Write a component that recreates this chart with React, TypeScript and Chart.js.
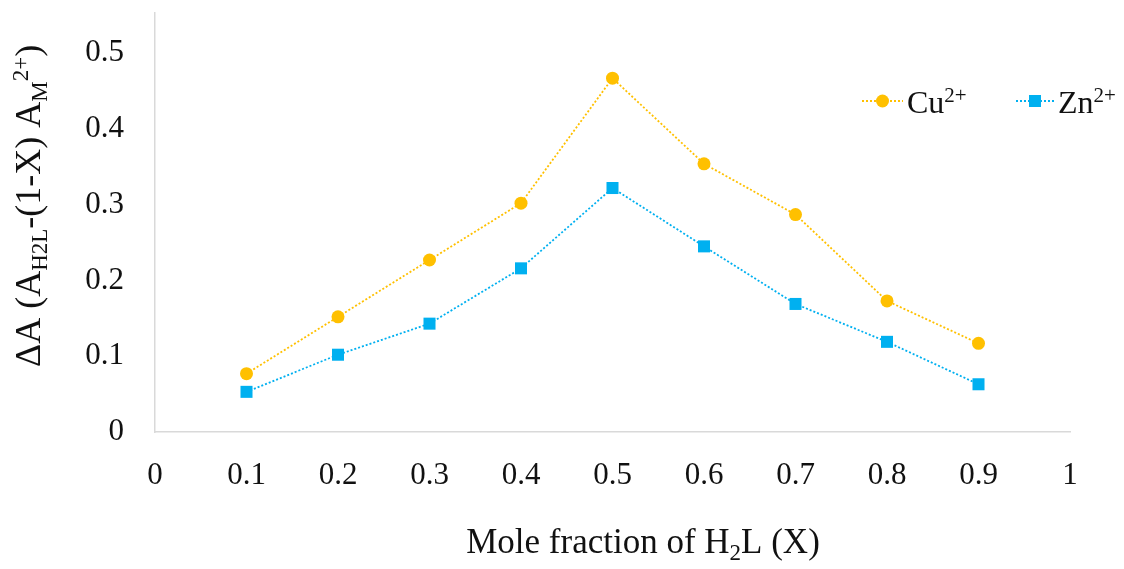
import React, { useEffect, useRef } from "react";
import { Chart, registerables } from "chart.js";

Chart.register(...registerables);

const xValues = [0.1, 0.2, 0.3, 0.4, 0.5, 0.6, 0.7, 0.8, 0.9];
const cuValues = [0.077, 0.152, 0.227, 0.302, 0.467, 0.354, 0.287, 0.173, 0.117];
const znValues = [0.053, 0.102, 0.143, 0.216, 0.322, 0.245, 0.169, 0.119, 0.063];
const xTicks = [0, 0.1, 0.2, 0.3, 0.4, 0.5, 0.6, 0.7, 0.8, 0.9, 1];
const yTicks = [0, 0.1, 0.2, 0.3, 0.4, 0.5];
const seriesNames = ["Cu", "Zn"];
const seriesCharge = "2+";

const CU_COLOR = "#FFC000";
const ZN_COLOR = "#00B0F0";
const AXIS_COLOR = "#D9D9D9";
const TEXT_COLOR = "#111111";
const FAMILY = "'Liberation Serif', 'Times New Roman', serif";

type Run = { text: string; size: number; dy: number };

function runsWidth(ctx: CanvasRenderingContext2D, runs: Run[]) {
  let w = 0;
  for (const r of runs) {
    ctx.font = `${r.size}px ${FAMILY}`;
    w += ctx.measureText(r.text).width;
  }
  return w;
}

function drawRuns(ctx: CanvasRenderingContext2D, runs: Run[], x: number, y: number) {
  let cx = x;
  for (const r of runs) {
    ctx.font = `${r.size}px ${FAMILY}`;
    ctx.fillText(r.text, cx, y + r.dy);
    cx += ctx.measureText(r.text).width;
  }
  return cx;
}

const decorPlugin = {
  id: "decor",
  afterDraw(chart: any) {
    const ctx: CanvasRenderingContext2D = chart.ctx;
    ctx.save();
    ctx.fillStyle = TEXT_COLOR;
    ctx.textBaseline = "alphabetic";
    ctx.textAlign = "left";

    // X axis title
    const xRuns: Run[] = [
      { text: "Mole fraction of H", size: 35, dy: 0 },
      { text: "2", size: 23, dy: 7 },
      { text: "L (X)", size: 35, dy: 0 },
    ];
    const xw = runsWidth(ctx, xRuns);
    drawRuns(ctx, xRuns, 643 - xw / 2, 553);

    // Y axis title (rotated)
    const yRuns: Run[] = [
      { text: "\u0394A (A", size: 36, dy: 0 },
      { text: "H2L", size: 23, dy: 7 },
      { text: "-(1-X) A", size: 36, dy: 0 },
      { text: "M", size: 23, dy: 7 },
      { text: "2+", size: 23, dy: -12 },
      { text: ")", size: 36, dy: 0 },
    ];
    ctx.save();
    ctx.translate(40, 367);
    ctx.rotate(-Math.PI / 2);
    drawRuns(ctx, yRuns, 0, 0);
    ctx.restore();

    // Legend
    const items = [
      { name: seriesNames[0], color: CU_COLOR, style: "circle", x0: 862, x1: 903, tx: 907 },
      { name: seriesNames[1], color: ZN_COLOR, style: "rect", x0: 1016, x1: 1054, tx: 1058 },
    ];
    const ly = 101;
    for (const it of items) {
      ctx.save();
      ctx.strokeStyle = it.color;
      ctx.lineWidth = 1.8;
      ctx.setLineDash([2, 2]);
      ctx.beginPath();
      ctx.moveTo(it.x0, ly);
      ctx.lineTo(it.x1, ly);
      ctx.stroke();
      ctx.setLineDash([]);
      ctx.fillStyle = it.color;
      const mx = (it.x0 + it.x1) / 2;
      ctx.beginPath();
      if (it.style === "circle") {
        ctx.arc(mx, ly, 6.5, 0, Math.PI * 2);
      } else {
        ctx.rect(mx - 6, ly - 6, 12, 12);
      }
      ctx.fill();
      ctx.restore();
      ctx.fillStyle = TEXT_COLOR;
      drawRuns(
        ctx,
        [
          { text: it.name, size: 32, dy: 0 },
          { text: seriesCharge, size: 21, dy: -11 },
        ],
        it.tx,
        113
      );
    }
    ctx.restore();
  },
};

function fmt(v: number) {
  return String(Number(v.toFixed(1)));
}

export default function App() {
  const canvasRef = useRef<HTMLCanvasElement | null>(null);

  useEffect(() => {
    document.body.style.margin = "0";
    const canvas = canvasRef.current;
    if (!canvas) return;
    const chart = new Chart(canvas, {
      type: "line",
      data: {
        datasets: [
          {
            label: seriesNames[0],
            data: xValues.map((x, i) => ({ x, y: cuValues[i] })),
            borderColor: CU_COLOR,
            backgroundColor: CU_COLOR,
            borderWidth: 1.8,
            borderDash: [2, 2],
            pointStyle: "circle",
            pointRadius: 6.5,
            pointBorderWidth: 0,
            pointBackgroundColor: CU_COLOR,
            tension: 0,
          },
          {
            label: seriesNames[1],
            data: xValues.map((x, i) => ({ x, y: znValues[i] })),
            borderColor: ZN_COLOR,
            backgroundColor: ZN_COLOR,
            borderWidth: 1.8,
            borderDash: [2, 2],
            pointStyle: "rect",
            pointRadius: 8.5,
            pointBorderWidth: 0,
            pointBackgroundColor: ZN_COLOR,
            tension: 0,
          },
        ],
      },
      options: {
        animation: false,
        responsive: true,
        maintainAspectRatio: false,
        layout: {
          autoPadding: false,
          padding: { left: 0, top: 13, right: 54, bottom: 0 },
        },
        plugins: {
          legend: { display: false },
          tooltip: { enabled: false },
          title: { display: false },
        },
        scales: {
          x: {
            type: "linear",
            min: 0,
            max: 1,
            afterBuildTicks: (scale: any) => {
              scale.ticks = xTicks.map((v) => ({ value: v }));
            },
            afterFit: (scale: any) => {
              scale.height = 137;
              scale.paddingLeft = 0;
              scale.paddingRight = 0;
              scale.paddingTop = 0;
              scale.paddingBottom = 0;
            },
            grid: { display: false, drawTicks: false },
            border: { display: true, color: AXIS_COLOR, width: 1.5 },
            ticks: {
              padding: 25,
              autoSkip: false,
              maxRotation: 0,
              color: TEXT_COLOR,
              font: { family: FAMILY, size: 31 },
              callback: (v: any) => fmt(Number(v)),
            },
          },
          y: {
            type: "linear",
            min: 0,
            max: 0.553,
            afterBuildTicks: (scale: any) => {
              scale.ticks = yTicks.map((v) => ({ value: v }));
            },
            afterFit: (scale: any) => {
              scale.width = 155;
              scale.paddingLeft = 0;
              scale.paddingRight = 0;
              scale.paddingTop = 0;
              scale.paddingBottom = 0;
            },
            grid: { display: false, drawTicks: false },
            border: { display: true, color: AXIS_COLOR, width: 1.5 },
            ticks: {
              padding: 31,
              autoSkip: false,
              color: TEXT_COLOR,
              font: { family: FAMILY, size: 31 },
              callback: (v: any) => fmt(Number(v)),
            },
          },
        },
      },
      plugins: [decorPlugin],
    } as any);
    return () => chart.destroy();
  }, []);

  return (
    <div style={{ width: 1124, height: 569, position: "relative", background: "#fff" }}>
      <canvas ref={canvasRef} />
    </div>
  );
}
